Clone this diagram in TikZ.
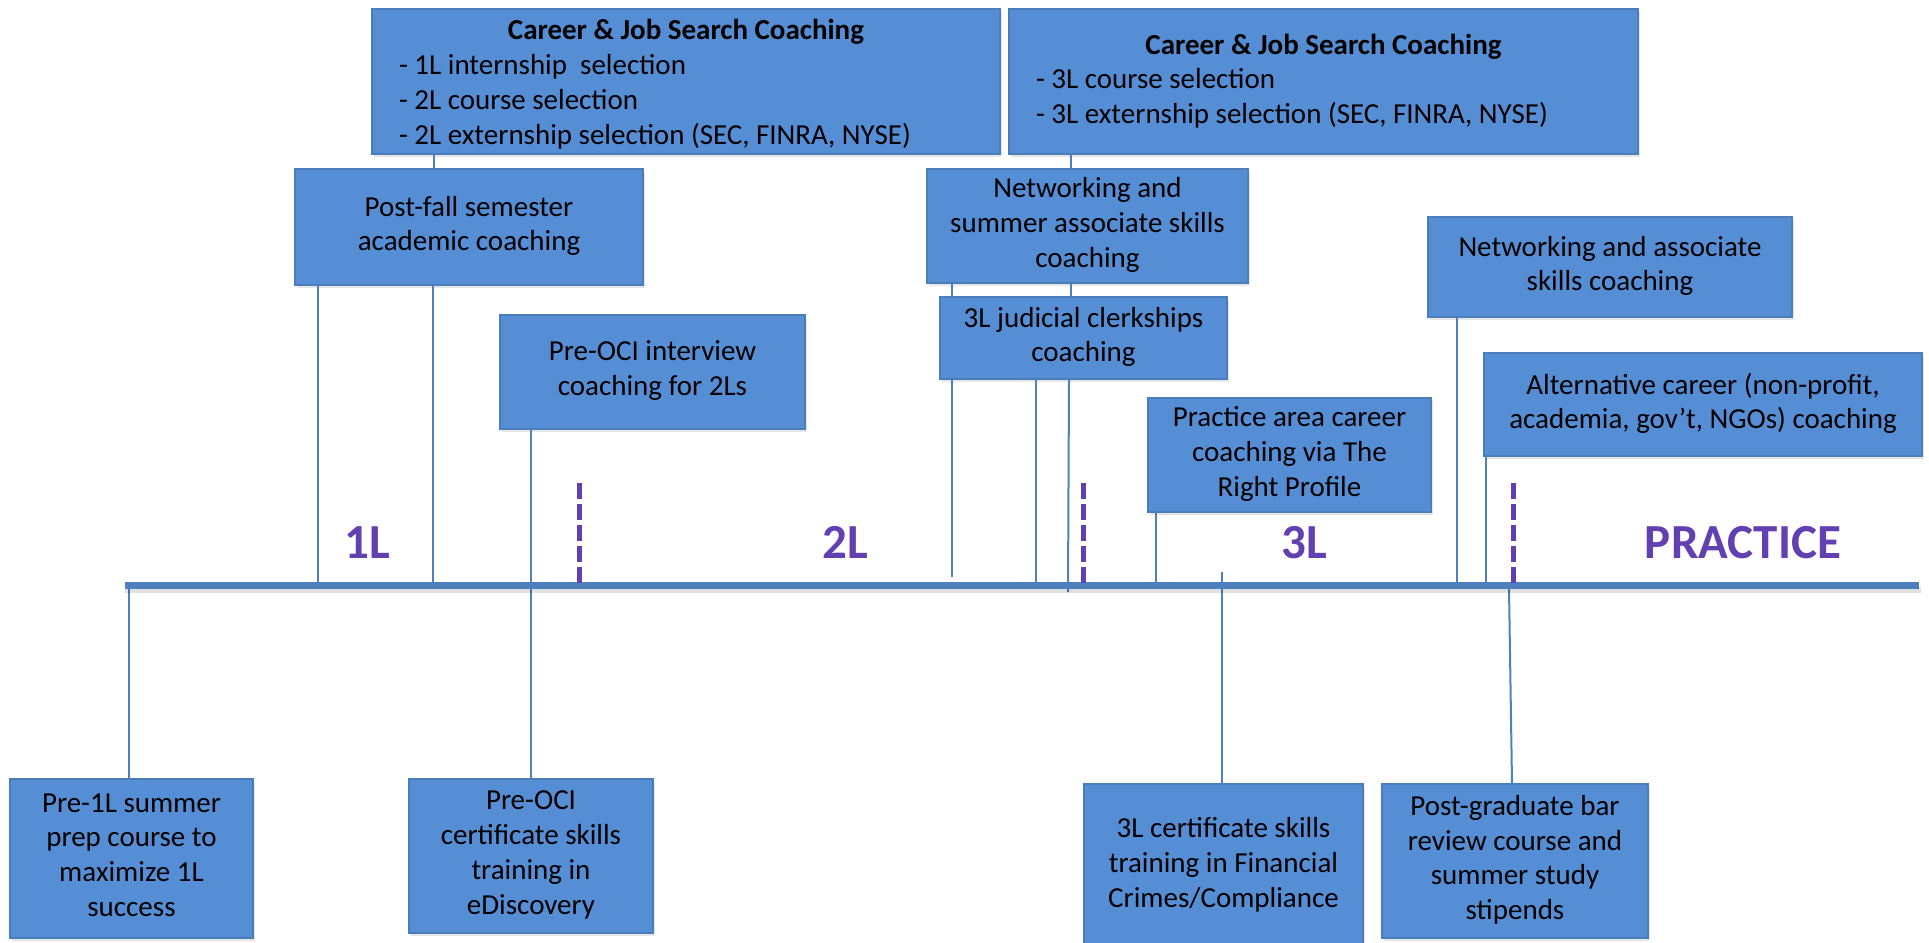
\documentclass[tikz,border=0pt]{standalone}
\usepackage{fontspec}
\setmainfont{Carlito}
\usetikzlibrary{shadows}
\definecolor{boxfill}{RGB}{85,142,213}
\definecolor{boxline}{RGB}{74,126,187}
\definecolor{connc}{RGB}{79,129,189}
\definecolor{axisc}{RGB}{78,128,189}
\definecolor{phasec}{RGB}{98,64,178}
\newcommand{\bxstrut}{\rule[-3.6pt]{0pt}{14.5pt}}
\tikzset{
  box/.style={draw=boxline, line width=1.1pt, fill=boxfill, inner sep=0pt,
    align=center, font=\fontsize{14.5}{17.4}\selectfont,
    drop shadow={opacity=0.2, shadow xshift=1.2pt, shadow yshift=-1.6pt},
    execute at begin node=\bxstrut, execute at end node=\bxstrut},
  wh/.style 2 args={minimum width=#1*0.5pt, minimum height=#2*0.5pt},
  cjbox/.style={box, align=flush left, text width=#1},
  conn/.style={draw=connc, line width=1pt},
  axisline/.style={draw=axisc, line width=3.5pt},
  axisshadow/.style={draw=black, opacity=0.12, line width=3pt},
  phasedash/.style={draw=phasec, line width=2.5pt, dash pattern=on 7.8pt off 2.7pt},
  phase/.style={font=\fontsize{24.5}{29}\selectfont\bfseries, text=phasec, inner sep=0pt, anchor=base}
}
\begin{document}
\begin{tikzpicture}[x=0.5pt,y=-0.5pt]
\useasboundingbox (0,0) rectangle (1929,943);
\coordinate (ax) at (0,585);
\coordinate (axL) at (125,585);
\coordinate (axR) at (1919,585);

% boxes
\node[cjbox=287pt, wh={628}{145}] (career1) at (686,81.5)
  {\rule{0pt}{13.9pt}\hfill\textbf{Career \& Job Search Coaching}\hfill\null\\
   - 1L internship~ selection\\
   - 2L course selection\\
   - 2L externship selection (SEC, FINRA, NYSE)};
\node[cjbox=287.5pt, wh={629}{145}] (career2) at (1323.5,81.5)
  {\hfill\textbf{Career \& Job Search Coaching}\hfill\null\\
   - 3L course selection\\
   - 3L externship selection (SEC, FINRA, NYSE)};
\node[box, wh={348}{116}] (postfall) at (469,227) {Post-fall semester\\academic coaching};
\node[box, wh={321}{114}] (netsum) at (1087.5,226) {Networking and\\summer associate skills\\coaching};
\node[box, wh={287}{82}] (judicial) at (1083.5,338) {3L judicial clerkships\\coaching};
\node[box, wh={364}{100}] (netassoc) at (1610,267) {Networking and associate\\skills coaching};
\node[box, wh={305}{114}] (preoci) at (652.5,372) {Pre-OCI interview\\coaching for 2Ls};
\node[box, wh={283}{114}] (practicearea) at (1289.5,455) {Practice area career\\coaching via The\\Right Profile};
\node[box, wh={438}{103}] (alternative) at (1703,404.5) {Alternative career (non-profit,\\academia, gov’t, NGOs) coaching};
\node[box, wh={243}{159}] (pre1l) at (131.5,858.5) {Pre-1L summer\\prep course to\\maximize 1L\\success};
\node[box, wh={244}{154}] (precert) at (531,856) {Pre-OCI\\certificate skills\\training in\\eDiscovery};
\node[box, wh={279}{164}] (cert3l) at (1223.5,866) {3L certificate skills\\training in Financial\\Crimes/Compliance};
\node[box, wh={266}{154}] (postgrad) at (1515,861) {Post-graduate bar\\review course and\\summer study\\stipends};

% connector free ends
\coordinate (j1end) at (952,577);
\coordinate (j3end) at (1068,592);
\coordinate (c3top) at (1222,572);
\coordinate (pgtop) at (1509,588);

% connectors
\draw[conn] (career1.south -| 434,0) -- (postfall.north -| 434,0);
\draw[conn] (postfall.south -| 318,0) -- (ax -| 318,0);
\draw[conn] (postfall.south -| 433,0) -- (ax -| 433,0);
\draw[conn] (career2.south -| 1071,0) -- (netsum.north -| 1071,0);
\draw[conn] (netsum.south -| 952,0) -- (judicial.north -| 952,0);
\draw[conn] (netsum.south -| 1071,0) -- (judicial.north -| 1071,0);
\draw[conn] (judicial.south -| 952,0) -- (j1end);
\draw[conn] (judicial.south -| 1036,0) -- (ax -| 1036,0);
\draw[conn] (judicial.south -| 1069,0) -- (j3end);
\draw[conn] (preoci.south -| precert.north) -- (precert.north);
\draw[conn] (practicearea.south -| 1156,0) -- (ax -| 1156,0);
\draw[conn] (netassoc.south -| 1457,0) -- (ax -| 1457,0);
\draw[conn] (alternative.south -| 1486,0) -- (ax -| 1486,0);
\draw[conn] (ax -| 129,0) -- (pre1l.north -| 129,0);
\draw[conn] (c3top) -- (cert3l.north -| c3top);
\draw[conn] (pgtop) -- (postgrad.north -| 1512,0);

% timeline axis
\draw[axisshadow] ([yshift=-2.5pt]axL) -- ([yshift=-2.5pt,xshift=1pt]axR);
\draw[axisline] (axL) -- (axR);

% phase dividers
\coordinate (d1t) at (579,483); \coordinate (d1b) at (579,584);
\coordinate (d2t) at (1083,483); \coordinate (d2b) at (1083,584);
\coordinate (d3t) at (1513,483); \coordinate (d3b) at (1513,584);
\draw[phasedash] (d1t) -- (d1b);
\draw[phasedash] (d2t) -- (d2b);
\draw[phasedash] (d3t) -- (d3b);

% phase labels
\node[phase] (lab1) at (367,558) {1L};
\node[phase] (lab2) at (845,558) {2L};
\node[phase] (lab3) at (1304,558) {3L};
\node[phase] (lab4) at (1743,558) {PRACTICE};
\end{tikzpicture}
\end{document}
